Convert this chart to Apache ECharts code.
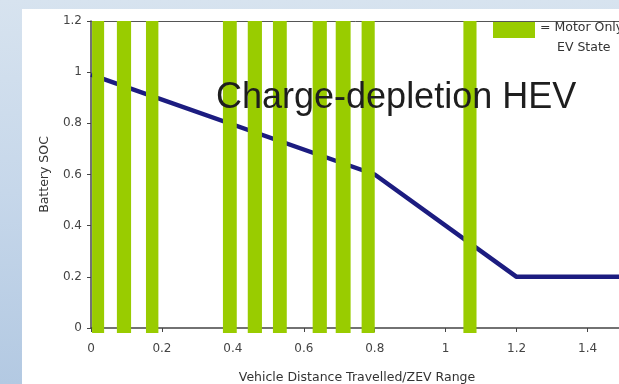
<!DOCTYPE html>
<html>
<head>
<meta charset="utf-8">
<script src="https://cdn.jsdelivr.net/npm/echarts@6/dist/echarts.min.js"></script>
<style>
  html, body { margin: 0; padding: 0; width: 619px; height: 384px; overflow: hidden;
    background: linear-gradient(to bottom, #d7e3ef 0%, #c6d7ea 50%, #b3c9e2 100%); }
  #panel { position: absolute; left: 22px; top: 9px; right: 0; bottom: 0; background: #ffffff; }
  #chart { position: absolute; left: 0; top: 0; width: 619px; height: 384px; }
</style>
</head>
<body>
<div id="panel"></div>
<div id="chart"></div>
<script>
// Data
const xTickLabels = ['0', '0.2', '0.4', '0.6', '0.8', '1', '1.2', '1.4'];
const yTickLabels = ['0', '0.2', '0.4', '0.6', '0.8', '1', '1.2'];
const socDistance = [0, 0.8, 1.2, 1.5];
const socValue = [0.99, 0.6, 0.2, 0.2];
const evBandStart = [0.003, 0.073, 0.155, 0.372, 0.442, 0.513, 0.625, 0.690, 0.763, 1.050];
const evBandEnd   = [0.037, 0.113, 0.190, 0.411, 0.482, 0.552, 0.665, 0.732, 0.800, 1.087];
const titleText = 'Charge-depletion HEV';
const legendLines = ['= Motor Only', 'EV State'];

const GREEN = '#99cc00';
const chart = echarts.init(document.getElementById('chart'), null, { renderer: 'canvas' });

const option = {
  backgroundColor: 'transparent',
  animation: false,
  grid: { left: 91, top: 21, right: -4, bottom: 56, show: false, outerBoundsMode: 'none', containLabel: false },
  xAxis: [{
    type: 'value', min: 0, max: 1.5, interval: 0.2, position: 'bottom',
    name: 'Vehicle Distance Travelled/ZEV Range', nameLocation: 'middle', nameGap: 43,
    nameTextStyle: { fontFamily: 'DejaVu Sans', fontSize: 12.5, color: '#333', padding: [0, 0, 0, 0] },
    axisLine: { show: true, onZero: false, lineStyle: { color: '#444', width: 1.5 } },
    axisTick: { show: true, inside: false, length: 4, lineStyle: { color: '#444' } },
    axisLabel: { showMaxLabel: false, margin: 15, fontFamily: 'DejaVu Sans', fontSize: 12, color: '#444',
      formatter: v => xTickLabels[Math.round(v / 0.2)] ?? '' },
    splitLine: { show: false }
  }, {
    type: 'value', min: 0, max: 1.5, position: 'top',
    axisLine: { show: true, onZero: false, lineStyle: { color: '#555', width: 1 } },
    axisTick: { show: false }, axisLabel: { show: false }, splitLine: { show: false }
  }],
  yAxis: {
    type: 'value', min: 0, max: 1.2, interval: 0.2,
    name: 'Battery SOC', nameLocation: 'middle', nameGap: 40,
    nameTextStyle: { fontFamily: 'DejaVu Sans', fontSize: 12.5, color: '#333' },
    axisLine: { show: true, lineStyle: { color: '#444', width: 1.5 } },
    axisTick: { show: true, length: 4, lineStyle: { color: '#444' } },
    axisLabel: { margin: 9, fontFamily: 'DejaVu Sans', fontSize: 12, color: '#444',
      formatter: v => yTickLabels[Math.round(v / 0.2)] ?? '' },
    splitLine: { show: false }
  },
  series: [
    {
      type: 'line', z: 2, xAxisIndex: 0,
      data: socDistance.map((d, i) => [d, socValue[i]]),
      showSymbol: false, symbol: 'none',
      lineStyle: { color: '#1c1c80', width: 4.5 }
    },
    {
      type: 'custom', z: 3, clip: false, xAxisIndex: 0,
      encode: { x: [0, 1] },
      data: evBandStart.map((s, i) => [s, evBandEnd[i]]),
      renderItem: function (params, api) {
        const p0 = api.coord([api.value(0), 1.2]);
        const p1 = api.coord([api.value(1), -0.02]);
        return { type: 'rect', shape: { x: p0[0], y: p0[1], width: p1[0] - p0[0], height: p1[1] - p0[1] },
          style: { fill: GREEN } };
      }
    }
  ],
  graphic: [
    { type: 'text', z: 10, left: 216, top: 80,
      style: { text: titleText, fontFamily: 'Liberation Sans', fontSize: 36, fill: '#1e1e1e' } },
    { type: 'rect', z: 10, shape: { x: 493, y: 22, width: 42, height: 16 }, style: { fill: GREEN } },
    { type: 'text', z: 10, left: 540, top: 21,
      style: { text: legendLines[0], fontFamily: 'DejaVu Sans', fontSize: 12.5, fill: '#333' } },
    { type: 'text', z: 10, left: 557, top: 41,
      style: { text: legendLines[1], fontFamily: 'DejaVu Sans', fontSize: 12.5, fill: '#333' } }
  ]
};
chart.setOption(option);
</script>
</body>
</html>
